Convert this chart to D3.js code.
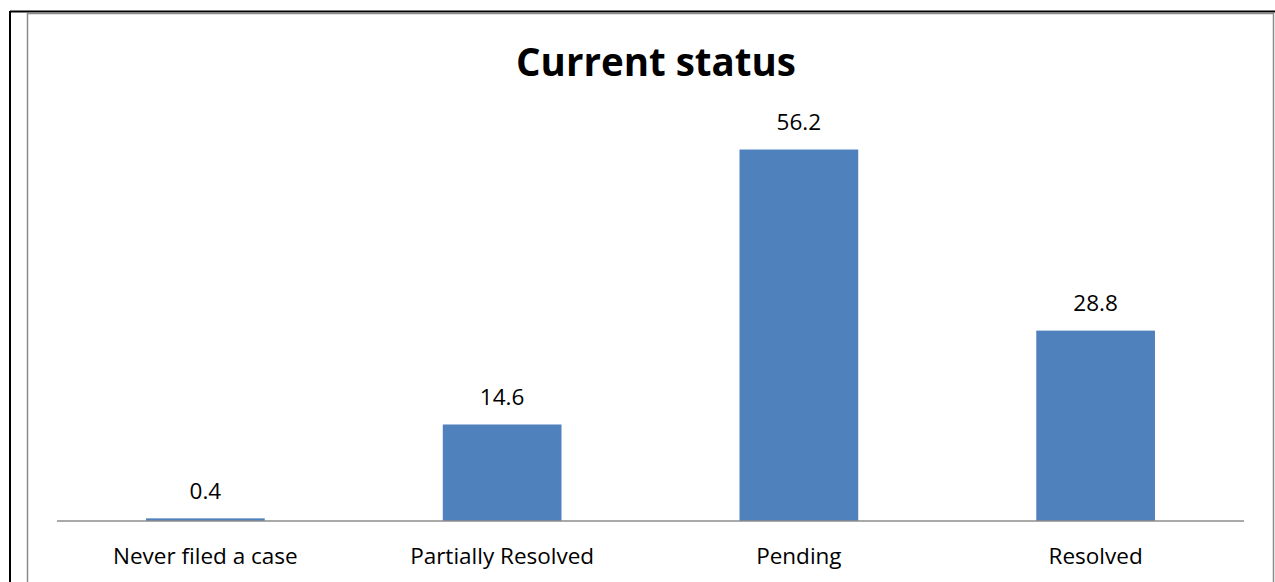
<!DOCTYPE html>
<html>
<head>
<meta charset="utf-8">
<script src="https://cdn.jsdelivr.net/npm/d3@7"></script>
<style>
  html, body { margin: 0; padding: 0; background: #fff; }
  svg { display: block; }
</style>
</head>
<body>
<svg id="chart" width="1275" height="582"></svg>
<script>
const categories = ["Never filed a case", "Partially Resolved", "Pending", "Resolved"];
const values = [0.4, 14.6, 56.2, 28.8];
const chartTitle = "Current status";

const W = 1275, H = 582;
const svg = d3.select("#chart");
const font = "'Open Sans', sans-serif";

// outer frame (black) and chart area frame (gray)
svg.append("line").attr("x1", 10).attr("x2", W).attr("y1", 11.5).attr("y2", 11.5)
  .attr("stroke", "#000").attr("stroke-width", 2);
svg.append("line").attr("x1", 10).attr("x2", 10).attr("y1", 11).attr("y2", H)
  .attr("stroke", "#000").attr("stroke-width", 2);
svg.append("path").attr("d", `M27.5,${H} V13.5 H1273.5 V${H}`)
  .attr("fill", "none").attr("stroke", "#8c8c8c").attr("stroke-width", 1.5);

const plot = { left: 57, right: 1244, top: 124.4, bottom: 521 };

const x = d3.scaleBand().domain(categories).range([plot.left, plot.right]).paddingInner(0.6).paddingOuter(0.3);
const y = d3.scaleLinear().domain([0, 60]).range([plot.bottom, plot.top]);

svg.append("text").attr("x", 656).attr("y", 76).attr("text-anchor", "middle")
  .attr("font-family", font).attr("font-weight", "bold").attr("font-size", 38.5)
  .text(chartTitle);

const data = categories.map((c, i) => ({ c, v: values[i] }));

svg.append("g").selectAll("rect").data(data).join("rect")
  .attr("x", d => x(d.c)).attr("width", x.bandwidth())
  .attr("y", d => y(d.v)).attr("height", d => y(0) - y(d.v))
  .attr("fill", "#4f81bd");

svg.append("g").selectAll("text").data(data).join("text")
  .attr("x", d => x(d.c) + x.bandwidth() / 2).attr("y", d => y(d.v) - 19.5)
  .attr("text-anchor", "middle").attr("font-family", font).attr("font-size", 22.5)
  .attr("fill", "#000").text(d => d.v.toFixed(1));

const axis = svg.append("g").attr("transform", `translate(0,${plot.bottom})`)
  .call(d3.axisBottom(x).tickSize(0).tickPadding(0));
axis.select(".domain").attr("stroke", "#8c8c8c").attr("stroke-width", 1.5)
  .attr("d", `M${plot.left},0H${plot.right}`);
axis.selectAll("text").attr("font-family", font).attr("font-size", 22.5).attr("fill", "#000")
  .attr("y", 42.5).attr("dy", null);
</script>
</body>
</html>
